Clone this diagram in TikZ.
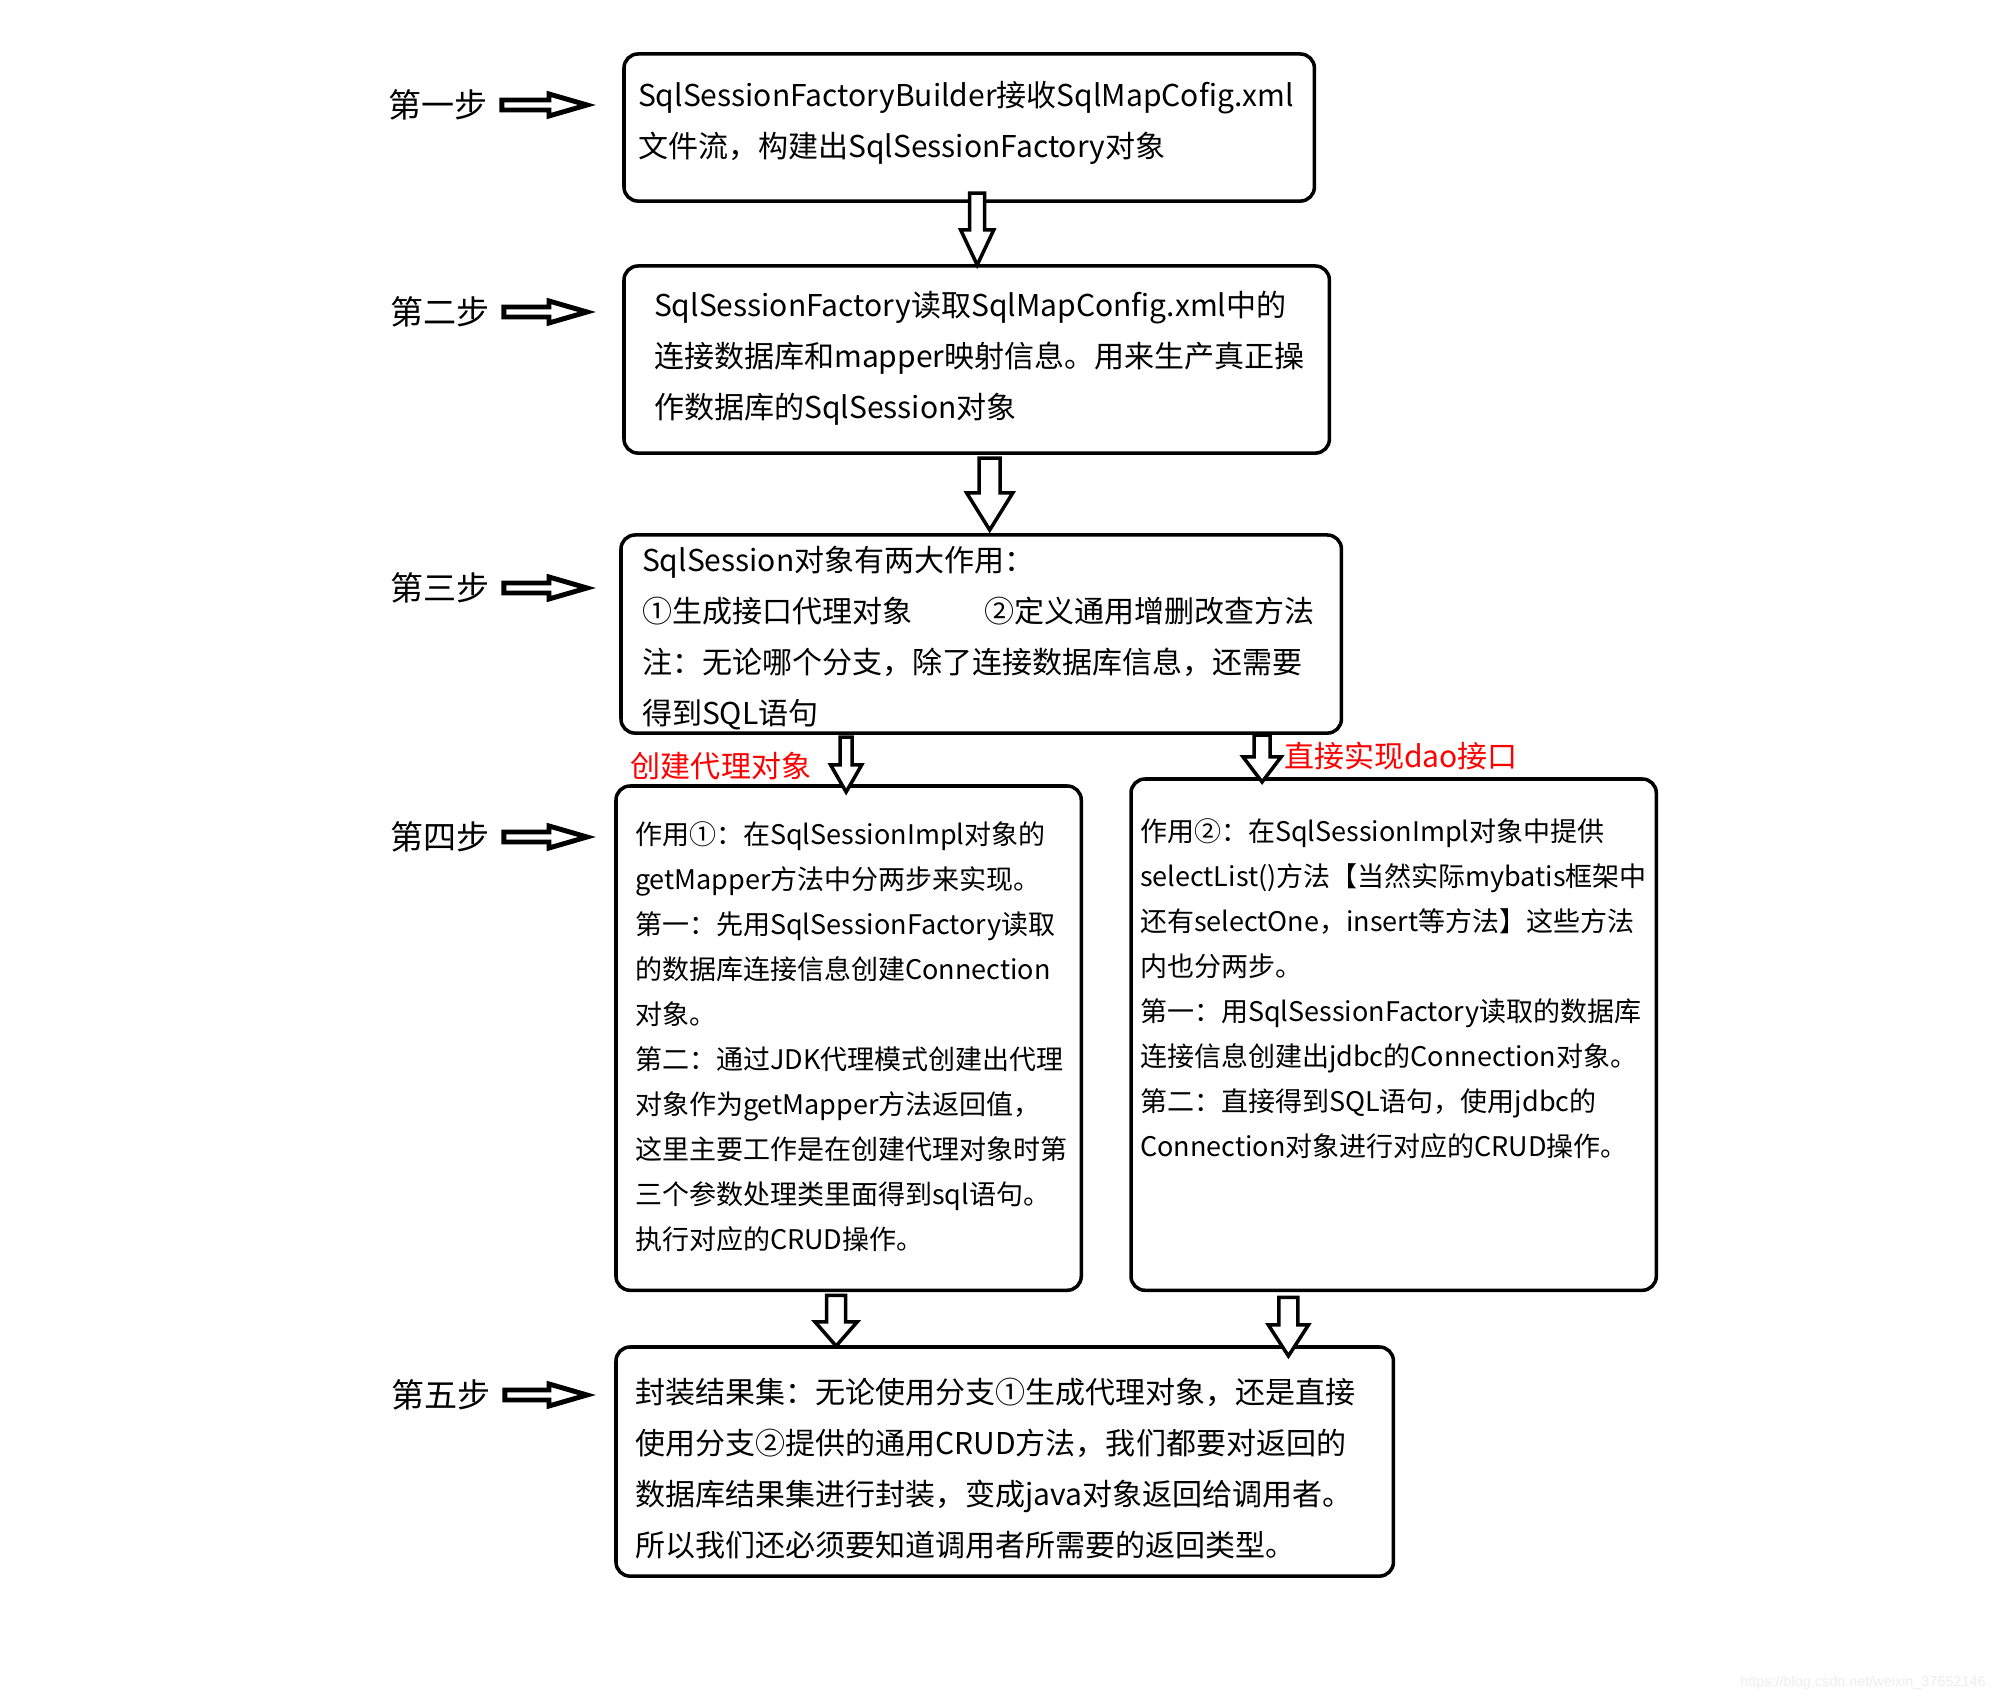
\documentclass[tikz,border=0pt]{standalone}
\usepackage{fontspec}
\setmainfont{Noto Sans CJK SC}
\newfontfamily\urlfont{Liberation Sans}
\usetikzlibrary{calc,positioning}

\begin{document}
\begin{tikzpicture}[x=0.01cm,y=-0.01cm,
	box/.style={draw,line width=1pt,rounded corners=0.14cm,anchor=north west,outer sep=0pt},
	bigtext/.style={font=\fontsize{8.54pt}{14.46pt}\selectfont},
	smalltext/.style={font=\fontsize{7.68pt}{12.8pt}\selectfont},
	steplabel/.style={inner sep=0pt,font=\fontsize{9.4pt}{11pt}\selectfont},
	redlabel/.style={inner sep=0pt,text=red,font=\fontsize{8.54pt}{10pt}\selectfont},
	wmark/.style={inner sep=0pt,text=black!7,font=\urlfont\fontsize{4.1pt}{5pt}\selectfont},
	fatright/.style={draw,line width=1.4pt,line join=miter,to path={let \p1=(\tikztostart),\p2=(\tikztotarget) in
		(\x1,\y1-0.05cm) -- (\x2-0.38cm,\y1-0.05cm) -- (\x2-0.38cm,\y1-0.11cm) -- (\x2,\y1)
		-- (\x2-0.38cm,\y1+0.11cm) -- (\x2-0.38cm,\y1+0.05cm) -- (\x1,\y1+0.05cm) -- cycle}},
	hollowdown/.style n args={3}{draw,fill=white,line width=1pt,line join=miter,to path={let \p1=(\tikztostart),\p2=(\tikztotarget) in
		(\x2-#1,\y1) -- (\x2+#1,\y1) -- (\x2+#1,\y2+#3) -- (\x2+#2,\y2+#3) -- (\x2,\y2)
		-- (\x2-#2,\y2+#3) -- (\x2-#1,\y2+#3) -- cycle}}]
	\fill[white] (0,0) rectangle (2008,1704);
	\useasboundingbox (0,0) rectangle (2008,1704);
	\coordinate (tip) at (587,0);
	
	% steps on the left
	\node[steplabel] (s1) at (438,105) {第一步};
	\node[steplabel] (s2) at (440,312) {第二步};
	\node[steplabel] (s3) at (440,588) {第三步};
	\node[steplabel] (s4) at (440,837) {第四步};
	\node[steplabel] (s5) at (441,1395) {第五步};
	\foreach \s in {s1,s2,s3,s4,s5}
		\draw[fatright] ([xshift=0.135cm]\s.east) to (\s -| tip);
	
	% boxes
	\node[box,bigtext,inner xsep=0.14cm,inner ysep=0.17cm] (b1) at (624,54) {\parbox[c][1.13cm][t]{6.62cm}{\strut
		SqlSessionFactoryBuilder接收SqlMapCofig.xml\\
		文件流，构建出SqlSessionFactory对象}};
	\node[box,bigtext,inner xsep=0.30cm,inner ysep=0.15cm] (b2) at (624,266) {\parbox[c][1.57cm][t]{6.45cm}{\strut
		SqlSessionFactory读取SqlMapConfig.xml中的\\
		连接数据库和mapper映射信息。用来生产真正操\\
		作数据库的SqlSession对象}};
	\node[box,bigtext,inner xsep=0.21cm,inner ysep=0.01cm] (b3) at (621,535) {\parbox[c][1.96cm][t]{6.78cm}{\strut
		SqlSession对象有两大作用：\\
		①生成接口代理对象\hspace*{2.4em}②定义通用增删改查方法\\
		注：无论哪个分支，除了连接数据库信息，还需要\\
		得到SQL语句}};
	\node[box,smalltext,inner xsep=0.19cm,inner ysep=0.27cm] (b4l) at (616,786) {\parbox[c][4.50cm][t]{4.27cm}{\strut
		作用①：在SqlSessionImpl对象的\\
		getMapper方法中分两步来实现。\\
		第一：先用SqlSessionFactory读取\\
		的数据库连接信息创建Connection\\
		对象。\\
		第二：通过JDK代理模式创建出代理\\
		对象作为getMapper方法返回值，\\
		这里主要工作是在创建代理对象时第\\
		三个参数处理类里面得到sql语句。\\
		执行对应的CRUD操作。}};
	\node[box,smalltext,inner xsep=0.09cm,inner ysep=0.31cm] (b4r) at (1131,779) {\parbox[c][4.49cm][t]{5.07cm}{\strut
		作用②：在SqlSessionImpl对象中提供\\
		selectList()方法【当然实际mybatis框架中\\
		还有selectOne，insert等方法】这些方法\\
		内也分两步。\\
		第一：用SqlSessionFactory读取的数据库\\
		连接信息创建出jdbc的Connection对象。\\
		第二：直接得到SQL语句，使用jdbc的\\
		Connection对象进行对应的CRUD操作。}};
	\node[box,bigtext,inner xsep=0.19cm,inner ysep=0.21cm] (b5) at (616,1347) {\parbox[c][1.87cm][t]{7.39cm}{\strut
		封装结果集：无论使用分支①生成代理对象，还是直接\\
		使用分支②提供的通用CRUD方法，我们都要对返回的\\
		数据库结果集进行封装，变成java对象返回给调用者。\\
		所以我们还必须要知道调用者所需要的返回类型。}};
	
	% arrows between boxes
	\draw[hollowdown={0.075cm}{0.165cm}{0.35cm}] ([yshift=0.08cm]b1.south) to ([xshift=0.005cm,yshift=0.01cm]b2.north);
	\draw[hollowdown={0.105cm}{0.23cm}{0.37cm}] ([yshift=-0.05cm]b2.south) to ([xshift=0.085cm,yshift=0.05cm]b3.north);
	\draw[hollowdown={0.06cm}{0.155cm}{0.27cm}] ([yshift=-0.04cm]b3.south) to ([xshift=-0.025cm,yshift=-0.06cm]b4l.north);
	\draw[hollowdown={0.08cm}{0.19cm}{0.25cm}] ([yshift=-0.02cm]b3.south) to ([xshift=-1.315cm,yshift=-0.03cm]b4r.north);
	\draw[hollowdown={0.095cm}{0.21cm}{0.24cm}] ([yshift=-0.05cm]b4l.south) to ([xshift=-1.685cm,yshift=0.01cm]b5.north);
	\draw[hollowdown={0.095cm}{0.2cm}{0.31cm}] ([yshift=-0.07cm]b4r.south) to ([xshift=2.835cm,yshift=-0.09cm]b5.north);
	
	% branch labels
	\node[redlabel] (l1) at (721,766) {创建代理对象};
	\node[redlabel] (l2) at (1401,756) {直接实现dao接口};
	
	\node[wmark] (url) at (1863,1683) {https://blog.csdn.net/weixin\_37652146};
\end{tikzpicture}
\end{document}
